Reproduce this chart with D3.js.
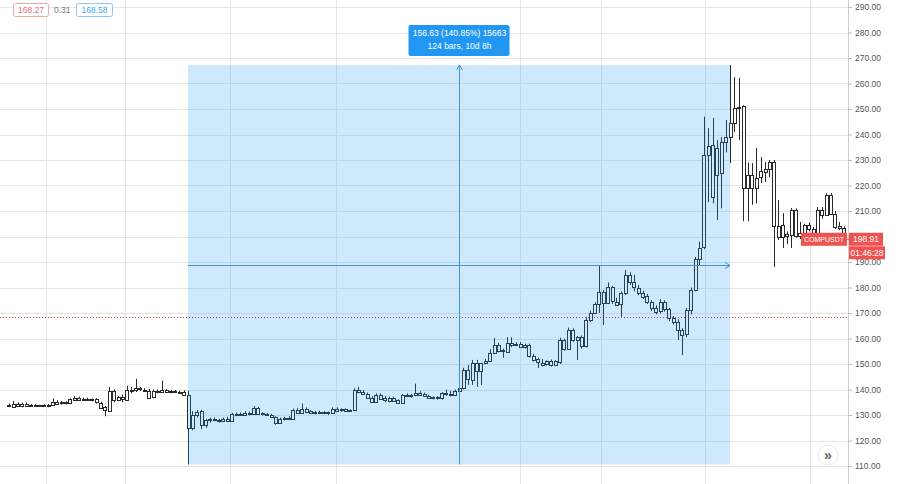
<!DOCTYPE html>
<html><head><meta charset="utf-8">
<script src="https://cdn.jsdelivr.net/npm/d3@7"></script>
<style>body{margin:0;background:#fff;overflow:hidden}svg{display:block}</style>
</head><body>
<svg id="chart" width="902" height="484"></svg>
<script>
// ---- data (2h bars, COMPUSDT) ----
const opens=[134,133.5,134.5,133.6,134.5,133.8,133.9,133.6,133.8,133.5,134,135.2,134.6,135,134.5,136.2,136.8,136,136.3,135.9,136.1,134.8,133,131.8,139.5,136,137,136.2,140,139.8,140.5,140,139.6,137,139.5,139.2,139.8,139,139.4,139,139.2,138,
125,130,131.5,126,128,128.5,128,127.8,128.5,127.6,130.3,130.5,130.2,130.8,130.3,132.8,130.6,130.2,130,129.2,127,128.5,129,128.5,132,131,132.5,131.5,130.8,131.2,131,130.6,131,132.5,131.8,132.2,131.6,131.8,139.8,
139,138.3,136.8,135.2,138,136.5,135.6,136.8,135.8,134.8,137.8,137.4,137.9,138.8,138.2,137.6,136.7,136.9,136.4,138.5,138.2,137.8,139.5,140.5,147.5,143.8,150.4,147.3,150.4,151.2,154.5,157.5,155.3,154.8,158.3,157.5,158,156.8,157.5,153.3,151.8,150.5,149.8,151,149.6,
151,159.5,156,163.3,159.5,160.5,157,167.3,170,173.4,178.2,174,180.1,174.5,173.5,177.8,184.9,182,180,178,176.5,174.2,172,170.5,174.2,171.5,168,166.5,163.5,161.5,171,179,191,196,232,236,224,225,237,239,244.5,250.4,251,219,224,219,223,225.5,226.5,229.2,204,199.8,200,200.8,210.5,200.5,201.5,204.5,203,201.5,210.5,208.5,216.3,209,204,203.2];
const highs=[134.5,135.5,135,134.8,135,134.3,134.3,134,134.2,134.3,136.5,135.8,135.5,135.4,136.5,137.5,137.2,136.8,136.8,136.5,136.6,135.2,133.5,141,140,137.5,138,141.5,141,144.2,141,140.5,140.2,140,140,143.5,140.2,139.8,139.8,139.6,139.7,139.5,
131.5,132,132,128.5,129,129,128.5,129,129.3,130.8,131,131,131.5,131.3,133.5,133.2,131,130.7,130.5,129.5,129,129.3,129.5,132.5,132.8,134.5,133,132,131.6,131.7,131.5,131.3,133,133,132.6,132.6,132.2,140.5,141,
139.8,138.8,137.3,138.5,138.5,137.5,137.2,137.2,136.2,138.2,138.5,138.3,142.3,139.3,138.8,138,137.3,137.4,139,140,139.5,140,141,148.5,149.6,151.6,151.6,150.5,152,155.8,160.2,158.3,156,160.5,160.5,158.5,158.6,158,158,154,152.5,152,151.5,151.8,
151.5,160.3,160,164.3,164,161,161.2,168.3,171,174.2,188.8,179,182,180.5,176,178.5,186.9,186,185,181,178.8,177.5,175,173,175.5,175,172,168.8,167.5,164,172,180,192,198,247,242.5,246.5,237.8,239,245.7,267.23,262.5,262.2,251.5,229,228.8,234.7,231.2,229.2,230,230,214.3,209.2,202,211.2,211,205.7,205,205.5,203.8,211.6,211.5,217,217,210,205.7,204];
const lows=[133.5,133,133.2,133,133.5,133.2,133.4,133.2,133.3,133,133.5,134,134,134.2,134.2,135.8,135.8,135.5,135.6,135.3,134.5,132.5,129.5,131.2,135,135.5,135,136,138.5,139,139.5,139.3,136.2,136.5,138.5,139,138.8,138.5,138.8,138.5,137.5,110.6,
124,129,124.5,125,127,127.5,127,127.3,127.2,127.3,129.5,129.8,129.6,129.9,130,130,129.8,129.6,128.8,126.2,126.5,127.8,128,128.3,130.5,130.6,131,130.4,130.2,130.5,130.3,130,130.8,131.5,131.2,131.3,131.2,131.5,138.5,
138,136.3,134.8,134.7,136,135,135,135.3,134.3,134.5,137,136.8,137.4,137.8,137.3,136.3,136.1,136,136,137.5,137.3,137.5,139,140,141.8,141.8,141,141.8,150,150.8,154,154.5,152.5,154.5,156.6,157,156.3,156,152.5,151,148.4,149,149.3,149,
149.2,150,155.2,155.5,158.7,151.6,156,156.5,166.5,169.5,170,165.3,173.5,173.5,172.8,168.5,177,181,178.5,177,175.5,173.5,170.8,169.5,169.8,170.5,166.8,165.5,159.4,153.5,160.5,169.5,178.5,188.8,195,213.5,213,206.5,211,233,228.8,241,237.8,206,206,212.4,213,221,221.4,223.3,188,198.6,195.5,197,195.5,199.5,199,200.3,202,200.5,200.5,207,208,208.5,203,202.5,198.9];
const closes=[133.8,134.5,133.6,134.5,133.8,133.9,133.6,133.8,133.5,134,135.2,134.6,135,134.5,136.2,136.8,136,136.3,135.9,136.1,134.8,133,131.8,139.5,136,137,136.2,140,139.8,140.5,140,139.6,137,139.5,139.2,139.8,139,139.4,139,139.2,138,125,
130,131,126,128,128.5,128,127.8,128.5,127.6,130.3,130.5,130.2,130.8,130.3,132.8,130.6,130.2,130,129.2,127,128.5,129,128.5,132,131,132.5,131.5,130.8,131.2,131,130.6,131,132.5,131.8,132.2,131.6,131.8,139.8,139,
138.3,136.8,135.2,138,136.5,135.6,136.8,135.8,134.8,137.8,137.4,137.9,138.8,138.2,137.6,136.7,136.9,136.4,138.5,138.2,137.8,139.5,140.5,147.5,143.8,150.4,147.3,150.4,151.2,154.5,157.5,155.3,154.8,158.3,157.5,158,156.8,157.5,153.3,151.8,150.5,149.8,151,149.6,151,
159.5,156,163.3,159.5,160.5,157,167.3,170,173.4,178.2,174,180.1,174.5,173.5,177.8,184.9,182,180,178,176.5,174.2,172,170.5,174.2,171.5,168,166.5,163.5,161.5,171,179,191,195.5,232,235.5,215.5,234.7,237,239,244.5,250.4,250.8,219,224,219,223,225.5,226.5,229.2,204,199.8,204.5,200.8,210.5,200.5,201.5,204.5,203,201.5,210.5,208.5,216.3,209,204,203.2,198.91];

const priceTicks=[110,120,130,140,150,160,170,180,190,200,210,220,230,240,250,260,270,280,290];
const timeGridBars=[8.5,26.6,50.6,74.9,117,135.5,159.3,183.3];
const symbol="COMPUSDT", lastPrice=198.91, countdown="01:46:28";
const refPrice=168.27;
const headerValues=["168.27","0.31","168.58"];
const measureStartBar=41, measureEndBar=165, measureLow=110.6, measureHigh=267.23;
const measureText=["156.63 (140.85%) 15663","124 bars, 10d 8h"];

// ---- drawing ----
const W=902,H=484,axisX=848;
const FONT="'Liberation Sans', Arial, sans-serif";
const svg=d3.select("#chart");
const x=d3.scaleLinear().domain([0,opens.length-1]).range([8.8,843.7]);
const y=d3.scaleLinear().domain([110,290]).range([466,7]);
const step=x(1)-x(0), bw=Math.max(2,Math.round(step*0.7));

const plot=svg.append("g");
// grid
plot.selectAll("line.h").data(priceTicks).join("line")
  .attr("x1",0).attr("x2",axisX).attr("y1",d=>Math.round(y(d))+0.5).attr("y2",d=>Math.round(y(d))+0.5)
  .attr("stroke","#e6e6e6");
plot.selectAll("line.v").data(timeGridBars).join("line")
  .attr("x1",d=>Math.round(x(d))+0.5).attr("x2",d=>Math.round(x(d))+0.5).attr("y1",0).attr("y2",H)
  .attr("stroke","#e6e6e6");
// reference dotted line
plot.append("line").attr("x1",0).attr("x2",axisX)
  .attr("y1",Math.round(y(refPrice))+0.5).attr("y2",Math.round(y(refPrice))+0.5)
  .attr("stroke","#e53935").attr("stroke-dasharray","1,2");

// candles
const idx=d3.range(opens.length);
const cg=plot.append("g");
cg.selectAll("line.wick").data(idx).join("line")
  .attr("x1",i=>Math.round(x(i))+0.5).attr("x2",i=>Math.round(x(i))+0.5)
  .attr("y1",i=>y(highs[i])).attr("y2",i=>y(lows[i]))
  .attr("stroke","#2a2a2a").attr("stroke-width",1);
cg.selectAll("rect.body").data(idx).join("rect")
  .attr("x",i=>Math.round(x(i)-bw/2)+0.5)
  .attr("y",i=>Math.round(y(Math.max(opens[i],closes[i])))+0.5)
  .attr("width",bw)
  .attr("height",i=>Math.max(1,Math.round(Math.abs(y(opens[i])-y(closes[i])))))
  .attr("fill","#fff").attr("stroke","#2a2a2a").attr("stroke-width",1);

// measurement tool
const mx0=x(measureStartBar), mx1=x(measureEndBar), my0=y(measureHigh), my1=y(measureLow);
const mxm=Math.round((mx0+mx1)/2)+0.5, mym=Math.round((my0+my1)/2)+0.5;
const MC="#3f95d8";
plot.append("rect").attr("x",mx0).attr("y",my0).attr("width",mx1-mx0).attr("height",my1-my0)
  .attr("fill","rgba(33,150,243,0.22)");
plot.append("line").attr("x1",mx0).attr("x2",mx1).attr("y1",mym).attr("y2",mym)
  .attr("stroke",MC).attr("stroke-width",1);
plot.append("line").attr("x1",mxm).attr("x2",mxm).attr("y1",my1).attr("y2",my0)
  .attr("stroke",MC).attr("stroke-width",1);
plot.append("path").attr("d",`M${mx1-5},${mym-3}L${mx1},${mym}L${mx1-5},${mym+3}`)
  .attr("fill","none").attr("stroke",MC);
plot.append("path").attr("d",`M${mxm-3},${my0+5}L${mxm},${my0}L${mxm+3},${my0+5}`)
  .attr("fill","none").attr("stroke",MC);
// tooltip
const tip=svg.append("g");
tip.append("rect").attr("x",mxm-51).attr("y",25).attr("width",101).attr("height",31).attr("rx",2)
  .attr("fill","#2196f3");
tip.selectAll("text").data(measureText).join("text")
  .attr("x",mxm).attr("y",(d,i)=>36+i*13).attr("text-anchor","middle")
  .attr("fill","#fff").attr("font-family",FONT).attr("font-size","8.5px").text(d=>d);

// right axis
const ly=y(lastPrice);
svg.append("rect").attr("x",axisX).attr("y",0).attr("width",W-axisX).attr("height",H).attr("fill","#fff");
svg.append("line").attr("x1",axisX+0.5).attr("x2",axisX+0.5).attr("y1",0).attr("y2",H).attr("stroke","#d0d0d0");
const axis=d3.axisRight(y).tickValues(priceTicks).tickFormat(d3.format(".2f")).tickSize(4).tickPadding(3);
const ag=svg.append("g").attr("transform",`translate(${axisX},0)`).call(axis);
ag.select(".domain").remove();
ag.selectAll(".tick line").attr("stroke","#bbb");
ag.selectAll(".tick text").attr("fill","#555").attr("font-family",FONT).attr("font-size","8.5px");
// the last-price badge hides the tick label it covers
ag.selectAll(".tick").filter(d=>Math.abs(y(d)-ly)<7).select("text").remove();

// header values
const hg=svg.append("g").attr("font-family",FONT).attr("font-size","8.5px");
hg.append("rect").attr("x",13.5).attr("y",3.5).attr("width",35).attr("height",13).attr("rx",2)
  .attr("fill","#fff").attr("stroke","#f2a7a5");
hg.append("text").attr("x",31).attr("y",13).attr("text-anchor","middle").attr("fill","#e57373").text(headerValues[0]);
hg.append("text").attr("x",54).attr("y",13).attr("fill","#777").text(headerValues[1]);
hg.append("rect").attr("x",76.5).attr("y",3.5).attr("width",36).attr("height",13).attr("rx",2)
  .attr("fill","#fff").attr("stroke","#8ec5f3");
hg.append("text").attr("x",94.5).attr("y",13).attr("text-anchor","middle").attr("fill","#42a5f5").text(headerValues[2]);

// last price labels
const lg=svg.append("g").attr("font-family",FONT).attr("font-size","8px");
lg.append("rect").attr("x",801).attr("y",ly-6.5).attr("width",46).attr("height",13).attr("fill","#ef5350");
lg.append("text").attr("x",824).attr("y",ly+3).attr("text-anchor","middle").attr("fill","#fff")
  .attr("textLength",40).attr("lengthAdjust","spacingAndGlyphs").text(symbol);
lg.append("line").attr("x1",847).attr("x2",851).attr("y1",ly).attr("y2",ly).attr("stroke","#ef5350");
lg.append("rect").attr("x",849).attr("y",ly-6.5).attr("width",34).attr("height",13).attr("fill","#ef5350");
lg.append("text").attr("x",866).attr("y",ly+3).attr("text-anchor","middle").attr("fill","#fff").attr("font-size","8.5px").text(d3.format(".2f")(lastPrice));
lg.append("rect").attr("x",849).attr("y",ly+7).attr("width",36).attr("height",13).attr("fill","#ef5350");
lg.append("text").attr("x",867).attr("y",ly+16.5).attr("text-anchor","middle").attr("fill","#fff").attr("font-size","8.5px").text(countdown);

// scroll button
const bg=svg.append("g").attr("transform","translate(828,455)");
bg.append("circle").attr("r",10).attr("fill","#fff").attr("stroke","#ececec");
bg.append("text").attr("y",4.5).attr("text-anchor","middle").attr("fill","#666")
  .attr("font-family",FONT).attr("font-size","14px").attr("font-weight","bold").text("»");
</script>
</body></html>
